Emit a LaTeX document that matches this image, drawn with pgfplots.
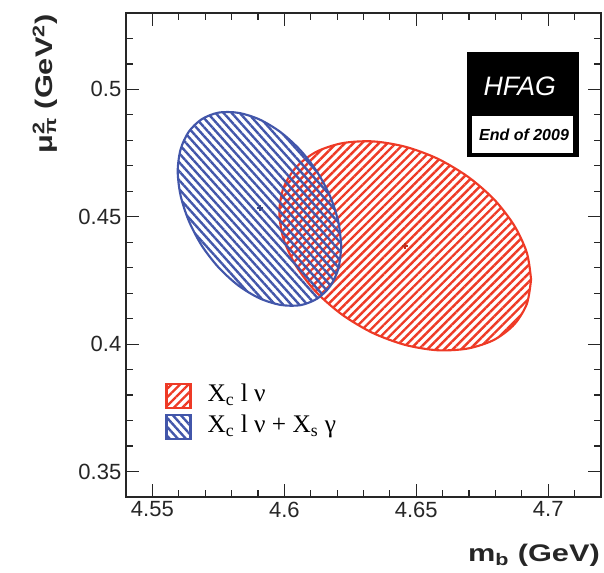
\documentclass[border=0pt]{standalone}
\usepackage{fontspec}
\setmainfont{Liberation Sans}
\newfontfamily\serif{Liberation Serif}
\newfontfamily\widebold[FakeStretch=1.28]{Liberation Sans}
\usepackage{pgfplots}
\pgfplotsset{compat=1.18}
\usetikzlibrary{patterns.meta}
\definecolor{hred}{RGB}{238,58,38}
\definecolor{hblue}{RGB}{66,86,170}
\begin{document}
\begin{tikzpicture}
\begin{axis}[
  scale only axis, width=356.25pt, height=363pt,
  xmin=4.54, xmax=4.72, ymin=0.34, ymax=0.53,
  xtick={4.55,4.6,4.65,4.7}, ytick={0.35,0.4,0.45,0.5},
  minor xtick={4.56,4.57,4.58,4.59,4.61,4.62,4.63,4.64,4.66,4.67,4.68,4.69,4.71},
  minor ytick={0.36,0.37,0.38,0.39,0.41,0.42,0.43,0.44,0.46,0.47,0.48,0.49,0.51,0.52},
  major tick length=10pt, minor tick length=5pt,
  every tick/.style={black!85, line width=0.9pt},
  axis line style={line width=1.2pt, black!85},
  /pgf/number format/assume math mode=true,
  ticklabel style={font=\fontsize{16.5}{16.5}\selectfont, black!85},
  legend style={draw=none, fill=none, at={(0.082,0.237)}, anchor=north west,
    inner sep=0pt, row sep=3.5pt, font=\serif\fontsize{19}{19}\selectfont,
    nodes={inner sep=0pt, text height=13pt, text depth=4pt}},
  legend cell align=left,
  legend image code/.code={\draw[#1, line width=1.8pt] (0pt,-9pt) rectangle (18pt,9pt);},
  /tikz/every odd column/.append style={column sep=12pt},
]
\addplot[hred, line width=1.6pt, smooth,
  pattern={Lines[angle=45,distance=4.5pt,line width=1.8pt]}, pattern color=hred]
coordinates {
(4.6935,0.4254) (4.6919,0.4158) (4.6871,0.4077) (4.6795,0.4017) (4.6696,0.3983)
(4.6581,0.3976) (4.6458,0.3997) (4.6335,0.4044) (4.6220,0.4115) (4.6121,0.4204)
(4.6045,0.4306) (4.5997,0.4413) (4.5981,0.4518) (4.5997,0.4614) (4.6045,0.4695)
(4.6121,0.4755) (4.6220,0.4789) (4.6335,0.4796) (4.6458,0.4775) (4.6581,0.4728)
(4.6696,0.4657) (4.6795,0.4568) (4.6871,0.4466) (4.6919,0.4359) (4.6935,0.4254)
} -- cycle;
\addlegendentry{X\textsubscript{c} l ν}
\addplot[hblue, line width=1.6pt, smooth,
  pattern={Lines[angle=-48,distance=4.5pt,line width=1.8pt]}, pattern color=hblue]
coordinates {
(4.6216,0.4383) (4.6205,0.4297) (4.6174,0.4228) (4.6125,0.4179) (4.6061,0.4153)
(4.5986,0.4154) (4.5906,0.4180) (4.5826,0.4230) (4.5751,0.4301) (4.5687,0.4387)
(4.5638,0.4484) (4.5607,0.4583) (4.5596,0.4679) (4.5607,0.4765) (4.5638,0.4834)
(4.5687,0.4883) (4.5751,0.4909) (4.5826,0.4908) (4.5906,0.4882) (4.5986,0.4832)
(4.6061,0.4761) (4.6125,0.4675) (4.6174,0.4579) (4.6205,0.4479) (4.6216,0.4383)
} -- cycle;
\addlegendentry{X\textsubscript{c} l ν + X\textsubscript{s} γ}
\addplot[forget plot, only marks, mark=+, mark size=2.2pt, hred!80!black, line width=1.2pt] coordinates {(4.6458,0.4386)};
\addplot[forget plot, only marks, mark=+, mark size=2.2pt, hblue!80!black, line width=1.2pt] coordinates {(4.5908,0.4535)};
\fill[black] (rel axis cs:0.717,0.919) rectangle (rel axis cs:0.954,0.702);
\fill[white] (rel axis cs:0.729,0.787) rectangle (rel axis cs:0.942,0.710);
\node[white, font=\itshape\fontsize{20}{20}\selectfont, inner sep=0pt] at (rel axis cs:0.829,0.848) {HFAG};
\node[black, font=\bfseries\itshape\fontsize{12}{12}\selectfont, inner sep=0pt] at (rel axis cs:0.838,0.749) {End of 2009};
\coordinate (sw) at (rel axis cs:0,0);
\coordinate (ne) at (rel axis cs:1,1);
\coordinate (nw) at (rel axis cs:0,1);
\coordinate (se) at (rel axis cs:1,0);
\end{axis}
\node[anchor=north east, inner sep=0pt, font=\widebold\bfseries\fontsize{18}{18}\selectfont, black!85]
  at ([xshift=-0.75pt,yshift=-35pt]se) {m\textsubscript{b} (GeV)};
\node[rotate=90, anchor=south east, inner sep=0pt, font=\widebold\bfseries\fontsize{18}{18}\selectfont, black!85]
  at ([xshift=-51pt,yshift=-1pt]nw) {μ\rlap{\textsuperscript{2}}\textsubscript{π} (GeV\textsuperscript{2})};
\pgfresetboundingbox
\path ([xshift=-94.5pt,yshift=-57pt]sw) rectangle ([xshift=2.25pt,yshift=9.75pt]ne);
\end{tikzpicture}
\end{document}
